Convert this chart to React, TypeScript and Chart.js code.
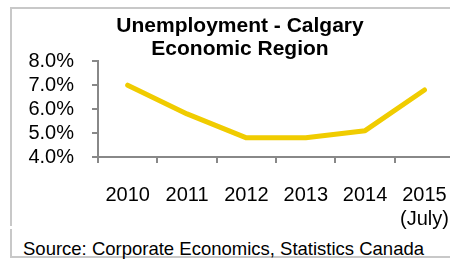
import React, { useEffect, useRef } from "react";
import { Chart, registerables } from "chart.js";

Chart.register(...registerables);

const categories: (string | string[])[] = ["2010", "2011", "2012", "2013", "2014", ["2015", "(July)"]];
const unemploymentRate: number[] = [7.0, 5.8, 4.8, 4.8, 5.1, 6.8];
const titleLines: string[] = ["Unemployment - Calgary", "Economic Region"];
const sourceText = "Source: Corporate Economics, Statistics Canada";
const yMin = 4;
const yMax = 8;
const yStep = 1;

const FONT = "'Liberation Sans', Arial, sans-serif";

export default function App() {
  const canvasRef = useRef<HTMLCanvasElement | null>(null);

  useEffect(() => {
    document.body.style.margin = "0";
    const canvas = canvasRef.current;
    if (!canvas) return;
    const chart = new Chart(canvas, {
      type: "line",
      data: {
        labels: categories as any,
        datasets: [
          {
            data: unemploymentRate,
            borderColor: "rgb(240,204,0)",
            borderWidth: 5,
            pointRadius: 0,
            tension: 0,
            borderCapStyle: "round",
            borderJoinStyle: "round",
            fill: false,
          },
        ],
      },
      options: {
        responsive: false,
        animation: false,
        devicePixelRatio: 1,
        layout: { padding: { left: 23, right: 13, top: 0, bottom: 0 } },
        plugins: {
          legend: { display: false },
          tooltip: { enabled: false },
          title: {
            display: true,
            text: titleLines,
            color: "#000",
            font: { family: FONT, size: 21, weight: "bold", lineHeight: 1.1 },
            padding: { top: 15, bottom: 0 },
          },
        },
        scales: {
          x: {
            type: "category",
            offset: true,
            grid: {
              offset: true,
              drawOnChartArea: false,
              drawTicks: true,
              tickLength: 6,
              color: "#888",
              lineWidth: 2,
            },
            border: { display: true, color: "#888", width: 2 },
            ticks: {
              color: "#000",
              font: { family: FONT, size: 20, lineHeight: 1.2 },
              padding: 20,
              maxRotation: 0,
              minRotation: 0,
              autoSkip: false,
            },
            afterFit: (s: any) => {
              s.height = 73;
            },
          },
          y: {
            min: yMin,
            max: yMax,
            grid: {
              drawOnChartArea: false,
              drawTicks: true,
              tickLength: 6,
              color: "#888",
              lineWidth: 2,
            },
            border: { display: true, color: "#888", width: 2 },
            ticks: {
              stepSize: yStep,
              autoSkip: false,
              color: "#000",
              font: { family: FONT, size: 20 },
              padding: 18,
              callback: (v: any) => Number(v).toFixed(1) + "%",
            },
            afterFit: (s: any) => {
              s.width = 75;
            },
          },
        },
      },
    } as any);
    return () => chart.destroy();
  }, []);

  return (
    <div style={{ position: "relative", width: 450, height: 259, overflow: "hidden", background: "#fff" }}>
      <div style={{ position: "absolute", left: 10, top: 7, width: 440, height: 2, background: "#c8c8c8" }} />
      <div style={{ position: "absolute", left: 10, top: 7, width: 2, height: 219, background: "#c8c8c8" }} />
      <div style={{ position: "absolute", left: 10, top: 229, width: 2, height: 29, background: "#c8c8c8" }} />
      <div style={{ position: "absolute", left: 10, top: 256, width: 440, height: 2, background: "#c8c8c8" }} />
      <canvas
        ref={canvasRef}
        width={470}
        height={230}
        style={{ position: "absolute", left: 0, top: 0, width: 470, height: 230 }}
      />
      <div
        style={{
          position: "absolute",
          left: 23,
          top: 239,
          whiteSpace: "nowrap",
          fontFamily: FONT,
          fontSize: 18.5,
          lineHeight: "20px",
          color: "#000",
        }}
      >
        {sourceText}
      </div>
    </div>
  );
}
